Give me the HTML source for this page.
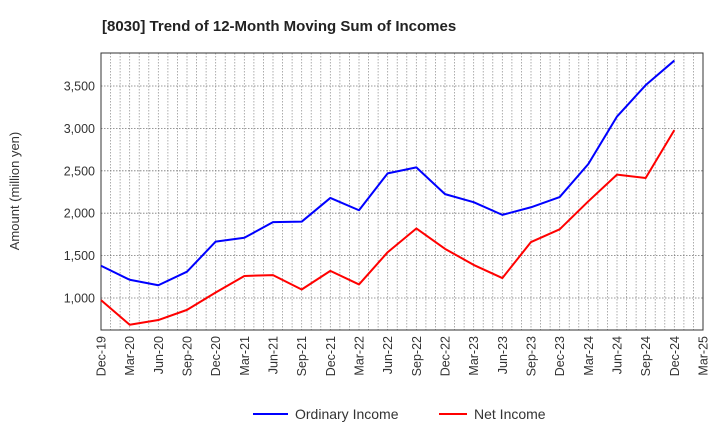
<!DOCTYPE html>
<html><head><meta charset="utf-8"><style>
body{margin:0;background:#fff;font-family:"Liberation Sans",sans-serif;}
</style></head><body>
<svg width="720" height="440" xmlns="http://www.w3.org/2000/svg" font-family="Liberation Sans, sans-serif">
<text x="102" y="31" font-size="15" font-weight="bold" fill="#222">[8030]  Trend of 12-Month Moving Sum of Incomes</text>
<g id="grid"></g>
<g id="axes"></g>
<g id="series"></g>
<text transform="translate(19,191) rotate(-90)" text-anchor="middle" font-size="13" fill="#333">Amount (million yen)</text>
<g>
<line x1="253" y1="414" x2="288" y2="414" stroke="#0000ff" stroke-width="2"/>
<text x="295" y="419" font-size="14" fill="#333">Ordinary Income</text>
<line x1="439" y1="414" x2="467" y2="414" stroke="#ff0000" stroke-width="2"/>
<text x="474" y="419" font-size="14" fill="#333">Net Income</text>
</g>
</svg>
<script>
const categories=["Dec-19","Mar-20","Jun-20","Sep-20","Dec-20","Mar-21","Jun-21","Sep-21","Dec-21","Mar-22","Jun-22","Sep-22","Dec-22","Mar-23","Jun-23","Sep-23","Dec-23","Mar-24","Jun-24","Sep-24","Dec-24","Mar-25"];
const ordinaryIncome=[1380,1215,1150,1310,1665,1710,1895,1900,2180,2035,2470,2540,2225,2130,1980,2070,2190,2580,3140,3510,3800];
const netIncome=[975,685,740,860,1065,1260,1270,1100,1320,1160,1540,1820,1580,1390,1235,1660,1810,2140,2455,2415,2980];
const yTicks=[1000,1500,2000,2500,3000,3500];
const yTickLabels=["1,000","1,500","2,000","2,500","3,000","3,500"];
const L=101,R=703,T=53,B=330;
const yMin=1000-32/0.0848,yMax=3500+33/0.0848;
const xs=i=>L+(R-L)*i/(categories.length-1);
const ys=v=>B-(v-yMin)/(yMax-yMin)*(B-T);
const NS="http://www.w3.org/2000/svg";
function mk(t,a,p){const e=document.createElementNS(NS,t);for(const k in a)e.setAttribute(k,a[k]);p.appendChild(e);return e;}
const grid=document.getElementById('grid'),axes=document.getElementById('axes'),ser=document.getElementById('series');
const months=(categories.length-1)*3;
for(let m=1;m<months;m++){const x=L+(R-L)*m/months;
const g=mk('line',{x1:x,x2:x,y1:T,y2:B,stroke:'#999','stroke-width':0.8,'stroke-dasharray':'1.5,1.5'},grid);

}
yTicks.forEach((v,i)=>{const y=ys(v);
const g=mk('line',{x1:L,x2:R,y1:y,y2:y,stroke:'#777','stroke-width':0.8,'stroke-dasharray':'1.5,1.5'},grid);


const t=mk('text',{x:L-6,y:y+4.5,'text-anchor':'end','font-size':12.5,fill:'#333'},axes);t.textContent=yTickLabels[i];

});
categories.forEach((c,i)=>{const x=xs(i);
const t=mk('text',{transform:`translate(${x+4.5},${B+6}) rotate(-90)`,'text-anchor':'end','font-size':12.5,fill:'#333'},axes);t.textContent=c;

});
const fr=mk('rect',{x:L,y:T,width:R-L,height:B-T,fill:'none',stroke:'#333','stroke-width':1},axes);


function line(d,col,name){const p=mk('polyline',{points:d.map((v,i)=>xs(i)+','+ys(v)).join(' '),fill:'none',stroke:col,'stroke-width':2,'stroke-linejoin':'round'},ser);

}
line(ordinaryIncome,'#0000ff','ordinary-income-line');
line(netIncome,'#ff0000','net-income-line');
</script>
</body></html>
